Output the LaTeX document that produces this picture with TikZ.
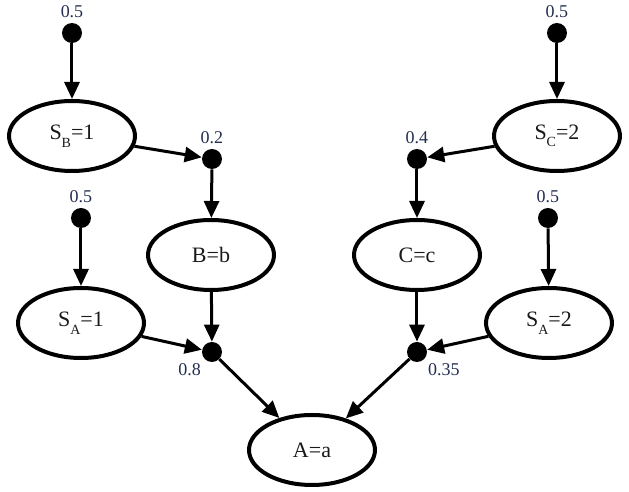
\documentclass[tikz,border=0pt]{standalone}
\usepackage{fontspec}
\setmainfont{Liberation Serif}
\usetikzlibrary{arrows.meta, positioning, shapes.geometric}
\definecolor{numblue}{RGB}{35,45,80}
\definecolor{txtgray}{RGB}{25,25,25}
\newcommand{\lowsub}[1]{\raisebox{-0.75ex}{\scriptsize #1}}
\tikzset{
  ell/.style={draw, ellipse, line width=2pt, minimum width=63pt,
              minimum height=35pt, inner sep=0pt,
              font=\fontsize{11}{13}\selectfont, text=txtgray},
  pdot/.style={circle, fill=black, minimum size=10pt, inner sep=0pt},
  pr/.style={font=\small, text=numblue, inner sep=1pt},
  arr/.style={-{Triangle[length=8.5pt, width=7.5pt]}, line width=1.5pt},
}
\begin{document}
\begin{tikzpicture}[x=0.5pt, y=-0.5pt, label distance=1pt]
    \useasboundingbox (0,0) rectangle (629,492);

    % root nodes
    \node[ell] (SB)  at (72,  136) {S\lowsub{B}=1};
    \node[ell] (SC)  at (557, 136) {S\lowsub{C}=2};
    \node[ell] (B)   at (211, 255) {B=b};
    \node[ell] (C)   at (417, 255) {C=c};
    \node[ell] (SA1) at (81,  323) {S\lowsub{A}=1};
    \node[ell] (SA2) at (549, 323) {S\lowsub{A}=2};
    \node[ell] (A)   at (312, 450) {A=a};

    % factor dots
    \node[pdot, label={[pr]above:0.5}]        (fSB)  at (72,  33)  {};
    \node[pdot, label={[pr]above:0.5}]        (fSC)  at (557, 33)  {};
    \node[pdot, label={[pr]above:0.2}]        (fB)   at (212, 159) {};
    \node[pdot, label={[pr]above:0.4}]        (fC)   at (417, 159) {};
    \node[pdot, label={[pr]above:0.5}]        (fSA1) at (81,  218) {};
    \node[pdot, label={[pr]above:0.5}]        (fSA2) at (548, 218) {};
    \node[pdot, label={[pr]below left:0.8}]   (fA1)  at (212, 352) {};
    \node[pdot, label={[pr]below right:0.35}] (fA2)  at (417, 352) {};

    \draw[arr] (fSB)  -- (SB);
    \draw[arr] (fSC)  -- (SC);
    \draw[arr] (SB)   -- (fB);
    \draw[arr] (fB)   -- (B);
    \draw[arr] (SC)   -- (fC);
    \draw[arr] (fC)   -- (C);
    \draw[arr] (fSA1) -- (SA1);
    \draw[arr] (fSA2) -- (SA2);
    \draw[arr] (SA1)  -- (fA1);
    \draw[arr] (B)    -- (fA1);
    \draw[arr] (C)    -- (fA2);
    \draw[arr] (SA2)  -- (fA2);
    \draw[arr] (fA1)  -- (A);
    \draw[arr] (fA2)  -- (A);
  \end{tikzpicture}
\end{document}
